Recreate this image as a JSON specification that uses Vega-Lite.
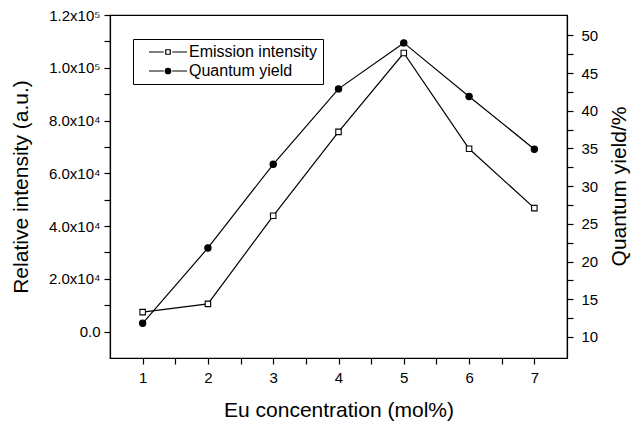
{
  "$schema": "https://vega.github.io/schema/vega-lite/v6.json",
  "width": 457,
  "height": 343,
  "autosize": {"type": "none"},
  "padding": {"left": 110, "top": 15, "right": 64, "bottom": 63},
  "background": "white",
  "config": {
    "font": "Liberation Sans",
    "view": {"stroke": "black", "strokeWidth": 1.2},
    "axis": {
      "grid": false,
      "domainColor": "black",
      "domainWidth": 1.2,
      "tickColor": "black",
      "tickWidth": 1.2,
      "tickSize": 6,
      "labelColor": "black",
      "titleColor": "black",
      "labelFontSize": 15,
      "titleFontSize": 21,
      "titleFontWeight": "normal",
      "labelFont": "Liberation Sans",
      "titleFont": "Liberation Sans",
      "labelFlush": false,
      "labelOverlap": false
    }
  },
  "data": {
    "values": [
      {"conc": 1, "series": "Emission intensity", "value": 7400},
      {"conc": 2, "series": "Emission intensity", "value": 10500},
      {"conc": 3, "series": "Emission intensity", "value": 43900},
      {"conc": 4, "series": "Emission intensity", "value": 75700},
      {"conc": 5, "series": "Emission intensity", "value": 105600},
      {"conc": 6, "series": "Emission intensity", "value": 69300},
      {"conc": 7, "series": "Emission intensity", "value": 46800},
      {"conc": 1, "series": "Quantum yield", "value": 11.8},
      {"conc": 2, "series": "Quantum yield", "value": 21.8},
      {"conc": 3, "series": "Quantum yield", "value": 32.9},
      {"conc": 4, "series": "Quantum yield", "value": 42.9},
      {"conc": 5, "series": "Quantum yield", "value": 49},
      {"conc": 6, "series": "Quantum yield", "value": 41.9},
      {"conc": 7, "series": "Quantum yield", "value": 34.9}
    ]
  },
  "encoding": {
    "x": {
      "field": "conc",
      "type": "quantitative",
      "scale": {"domain": [0.5, 7.5], "nice": false, "zero": false},
      "axis": {
        "title": "Eu concentration (mol%)",
        "values": [1, 1.5, 2, 2.5, 3, 3.5, 4, 4.5, 5, 5.5, 6, 6.5, 7],
        "labelExpr": "datum.value % 1 === 0 ? format(datum.value, 'd') : ''",
        "labelPadding": 6,
        "titlePadding": 14,
        "encode": {"ticks": {"update": {"y2": {"signal": "datum.value % 1 === 0 ? 6 : 3"}}}}
      }
    },
    "color": {
      "field": "series",
      "type": "nominal",
      "scale": {"domain": ["Emission intensity", "Quantum yield"], "range": ["black", "black"]},
      "legend": {
        "title": null,
        "orient": "none",
        "legendX": 23,
        "legendY": 24,
        "labelFontSize": 16,
        "labelFont": "Liberation Sans",
        "labelColor": "black",
        "strokeColor": "black",
        "fillColor": "white",
        "padding": 5,
        "rowPadding": 3,
        "symbolOffset": 22,
        "labelOffset": 13,
        "symbolStrokeWidth": 1.2,
        "encode": {
          "symbols": {
            "update": {
              "shape": {"signal": "datum.value === 'Emission intensity' ? 'M-3.8,0H-0.85M0.85,0H3.8M-0.45,-0.45H0.45V0.45H-0.45Z' : 'M-3.8,0H-0.85M0.85,0H3.8M-0.55,0A0.55,0.55,0,1,0,0.55,0A0.55,0.55,0,1,0,-0.55,0Z'"},
              "fill": {"signal": "datum.value === 'Emission intensity' ? 'white' : 'black'"},
              "size": {"value": 100},
              "opacity": {"value": 1},
              "strokeWidth": {"value": 1.2}
            }
          }
        }
      }
    }
  },
  "layer": [
    {
      "transform": [{"filter": "datum.series === 'Emission intensity'"}],
      "encoding": {
        "y": {
          "field": "value",
          "type": "quantitative",
          "scale": {"domain": [-10000, 120000], "nice": false, "zero": false},
          "axis": {
            "title": "Relative intensity (a.u.)",
            "values": [0, 10000, 20000, 30000, 40000, 50000, 60000, 70000, 80000, 90000, 100000, 110000, 120000],
            "labelExpr": "datum.value === 0 ? '0.0' : (datum.value % 20000 !== 0 ? '' : (datum.value >= 100000 ? format(datum.value / 100000, '.1f') + 'x10⁵' : format(datum.value / 10000, '.1f') + 'x10⁴'))",
            "labelPadding": 4,
            "titlePadding": 17,
            "encode": {"ticks": {"update": {"x2": {"signal": "datum.value % 20000 === 0 ? -6 : -3"}}}}
          }
        }
      },
      "layer": [
        {"mark": {"type": "line", "strokeWidth": 1.2}, "encoding": {}},
        {"mark": {"type": "point", "shape": "square", "filled": false, "fill": "white", "strokeWidth": 1.1, "opacity": 1, "size": 30}, "encoding": {}}
      ]
    },
    {
      "transform": [{"filter": "datum.series === 'Quantum yield'"}],
      "encoding": {
        "y": {
          "field": "value",
          "type": "quantitative",
          "scale": {"domain": [7.2, 52.7], "nice": false, "zero": false},
          "axis": {
            "orient": "right",
            "title": "Quantum yield/%",
            "values": [10, 12.5, 15, 17.5, 20, 22.5, 25, 27.5, 30, 32.5, 35, 37.5, 40, 42.5, 45, 47.5, 50],
            "labelExpr": "datum.value % 5 === 0 ? datum.label : ''",
            "labelPadding": 8,
            "titleAngle": -90,
            "titleAlign": "center",
            "titleBaseline": "middle",
            "titleX": 52,
            "titleY": 171,
            "encode": {"ticks": {"update": {"x2": {"signal": "datum.value % 5 === 0 ? 6 : 3"}}}}
          }
        }
      },
      "layer": [
        {"mark": {"type": "line", "strokeWidth": 1.2}, "encoding": {}},
        {"mark": {"type": "point", "shape": "circle", "filled": false, "fill": "black", "strokeWidth": 1.1, "opacity": 1, "size": 40}, "encoding": {}}
      ]
    }
  ],
  "resolve": {"scale": {"y": "independent"}}
}
